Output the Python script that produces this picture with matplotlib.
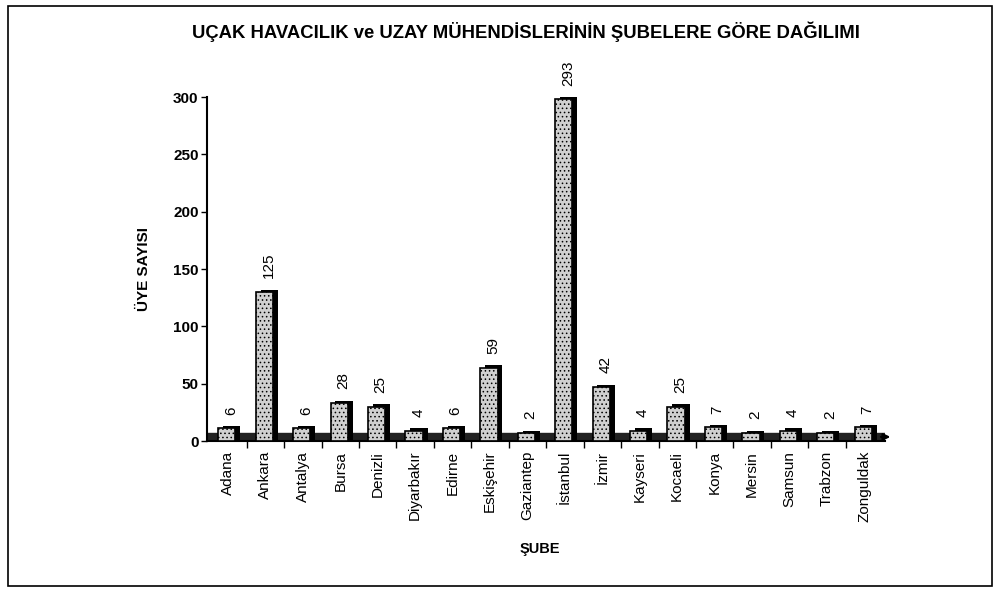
import matplotlib
matplotlib.use("Agg")
import matplotlib.pyplot as plt
from matplotlib.patches import Rectangle
import numpy as np

plt.rcParams['font.family'] = ['Liberation Sans', 'DejaVu Sans']
plt.rcParams['hatch.linewidth'] = 0.6

branches = ["Adana", "Ankara", "Antalya", "Bursa", "Denizli", "Diyarbakır", "Edirne",
            "Eskişehir", "Gaziantep", "İstanbul", "İzmir", "Kayseri", "Kocaeli", "Konya",
            "Mersin", "Samsun", "Trabzon", "Zonguldak"]
members = [6, 125, 6, 28, 25, 4, 6, 59, 2, 293, 42, 4, 25, 7, 2, 4, 2, 7]
yticks = [0, 50, 100, 150, 200, 250, 300]

title = "UÇAK HAVACILIK ve UZAY MÜHENDİSLERİNİN ŞUBELERE GÖRE DAĞILIMI"

fig = plt.figure(figsize=(10, 5.92), dpi=100)
ax = fig.add_axes([0.207, 0.255, 0.678, 0.581])

x = np.arange(len(branches))
w = 0.46
lift = 5  # 3D perspective lift
# floor
ax.axhspan(0, 7, color='#222222', zorder=1)
# side / shadow of bars (3D look)
ax.bar(x + 0.10, [v + lift + 2 for v in members], w, bottom=0, color='black', zorder=2)
# front faces
ax.bar(x - 0.03, [v + lift for v in members], w, bottom=0, facecolor='#d0d0d0',
       edgecolor='black', hatch='....', linewidth=1.2, zorder=3)

for xi, v in zip(x, members):
    ax.text(xi + 0.08, v + lift + 12, str(v), rotation=90, ha='center', va='bottom',
            fontsize=11, zorder=4)

ax.set_xlim(-0.56, 17.55)
ax.set_ylim(0, 300)
ax.set_yticks(yticks)
ax.set_yticklabels([str(t) for t in yticks], fontsize=11, fontweight='bold')
ax.set_xticks(x)
ax.set_xticklabels(branches, rotation=90, fontsize=11)
ax.tick_params(axis='x', length=0, pad=7)
ax.set_xticks(x[:-1] + 0.5, minor=True)
ax.tick_params(axis='x', which='minor', length=5, direction='out', width=1)
ax.tick_params(axis='y', length=4, width=1, pad=2)

for s in ['top', 'right']:
    ax.spines[s].set_visible(False)
ax.spines['left'].set_linewidth(1.5)
ax.spines['bottom'].set_linewidth(1.5)

# floor arrow tip at the right end
ax.annotate('', xy=(1.012, 0.012), xycoords='axes fraction',
            xytext=(0.99, 0.012), textcoords='axes fraction',
            arrowprops=dict(arrowstyle='-|>', color='black', lw=1.5), annotation_clip=False)

ax.set_ylabel("ÜYE SAYISI", fontsize=11, fontweight='bold', labelpad=16)
fig.text(0.54, 0.073, "ŞUBE", ha='center', va='center', fontsize=10.5, fontweight='bold')
fig.text(0.526, 0.947, title, ha='center', va='center', fontsize=13.3,
         fontweight='bold')

fig.patches.append(Rectangle((0.008, 0.01), 0.984, 0.98, transform=fig.transFigure,
                             fill=False, edgecolor='black', linewidth=1.2))

fig.savefig("out.png", dpi=100)
